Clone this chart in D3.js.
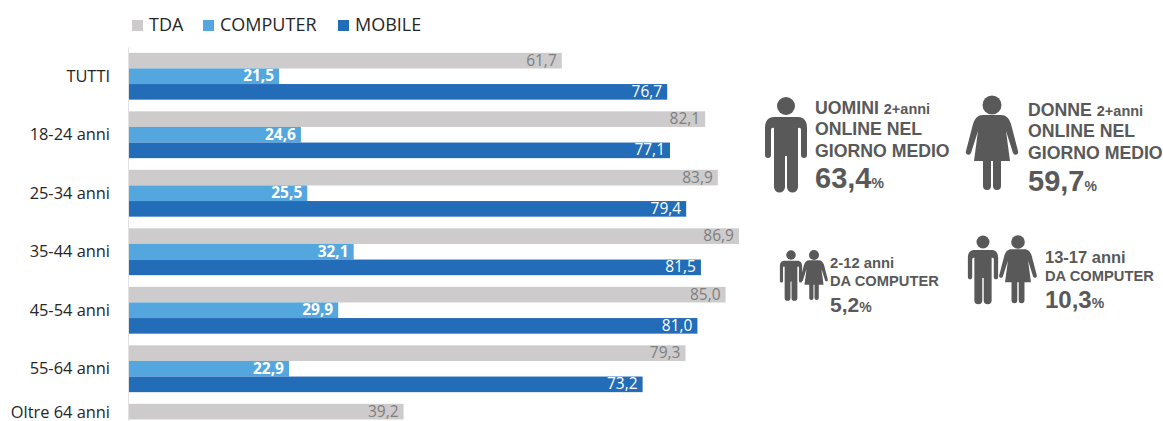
<!DOCTYPE html>
<html>
<head>
<meta charset="utf-8">
<script src="https://cdn.jsdelivr.net/npm/d3@7"></script>
<style>
  html, body { margin: 0; padding: 0; background: #fff; overflow: hidden; }
  svg { display: block; }
  .cat text, .legend text { font-family: "Open Sans", sans-serif; fill: #262626; }
  .info text { font-family: "Liberation Sans", Arial, sans-serif; font-weight: bold; fill: #595959; }
</style>
</head>
<body>
<div id="chart"></div>
<script>
var categories = ['TUTTI', '18-24 anni', '25-34 anni', '35-44 anni', '45-54 anni', '55-64 anni', 'Oltre 64 anni'];
var seriesNames = ['TDA', 'COMPUTER', 'MOBILE'];
var tda = [61.7, 82.1, 83.9, 86.9, 85.0, 79.3, 39.2];
var computer = [21.5, 24.6, 25.5, 32.1, 29.9, 22.9, null];
var mobile = [76.7, 77.1, 79.4, 81.5, 81.0, 73.2, null];

var colors = ['#cdcbcb', '#54a6de', '#236cb8'];
var labelColors = ['#7f7f7f', '#ffffff', '#ffffff'];

(function(d3) {
  'use strict';

  var width = 1163;
  var height = 421;

  var svg = d3.select('#chart')
    .append('svg')
    .attr('width', width)
    .attr('height', height);

  var fmt = function(v) { return v.toFixed(1).replace('.', ','); };

  // px per unit: 86,9 ends at 739
  var x = d3.scaleLinear().domain([0, 100]).range([128, 831]);

  var y = d3.scaleBand()
    .domain(categories)
    .range([47, 456.5])
    .paddingInner(0.2)
    .paddingOuter(0.1);

  var inner = d3.scaleBand()
    .domain(seriesNames)
    .range([0, y.bandwidth()]);

  var series = [tda, computer, mobile];

  series.forEach(function(values, s) {
    var name = seriesNames[s];
    var rows = categories.map(function(c, i) { return { cat: c, v: values[i] }; })
      .filter(function(d) { return d.v !== null; });

    svg.append('g').selectAll('rect')
      .data(rows)
      .enter()
      .append('rect')
      .attr('x', x(0))
      .attr('y', function(d) { return y(d.cat) + inner(name); })
      .attr('width', function(d) { return x(d.v) - x(0); })
      .attr('height', inner.bandwidth())
      .attr('fill', colors[s]);

    svg.append('g').selectAll('text')
      .data(rows)
      .enter()
      .append('text')
      .attr('x', function(d) { return x(d.v) - 5; })
      .attr('y', function(d) { return y(d.cat) + inner(name) + inner.bandwidth() / 2 + 5; })
      .attr('text-anchor', 'end')
      .attr('font-family', '"Open Sans", sans-serif')
      .attr('font-size', 15.5)
      .attr('font-weight', s === 1 ? 'bold' : 'normal')
      .attr('fill', labelColors[s])
      .text(function(d) { return fmt(d.v); });
  });

  var axis = svg.append('g')
    .attr('class', 'cat')
    .attr('transform', 'translate(' + x(0) + ',0)')
    .call(d3.axisLeft(y).tickSize(0).tickPadding(18));
  axis.select('.domain').attr('stroke', '#e2e2e2');
  axis.selectAll('text').attr('font-size', 16.4);

  // the last group runs off the picture, its label sits higher up
  axis.selectAll('.tick:last-of-type text').attr('dy', '0.32em').attr('transform', 'translate(0,-15)');

  // legend
  var legendX = [132, 203, 338];
  var legend = svg.append('g').attr('class', 'legend');
  seriesNames.forEach(function(name, i) {
    legend.append('rect')
      .attr('x', legendX[i])
      .attr('y', 20)
      .attr('width', 11)
      .attr('height', 11)
      .attr('fill', colors[i]);
    legend.append('text')
      .attr('x', legendX[i] + 17)
      .attr('y', 31)
      .attr('font-size', 18)
      .text(name);
  });

  // pictograms, local origin = centre of the head
  var manBody = 'M-12,11H12C18,11 21,15 21,22V49a3,3 0 0 1 -6,0V24q0,-3 -3,-2V81a5,5 0 0 1 -11,0V50h-2V81' +
    'a5,5 0 0 1 -11,0V22q-3,-1 -3,2V49a3,3 0 0 1 -6,0V22C-21,15 -18,11 -12,11Z';
  var womanBody = 'M-9,10H9C14,10 17,13 19,19L26,46a2.6,2.6 0 0 1 -5,2L14,26L18,56H9V81a4,4 0 0 1 -8,0V56H-1V81' +
    'a4,4 0 0 1 -8,0V56H-18L-14,26L-21,48a2.6,2.6 0 0 1 -5,-2L-19,19C-17,13 -14,10 -9,10Z';

  function figure(kind, cx, cy, scale) {
    var g = svg.append('g')
      .attr('transform', 'translate(' + cx + ',' + cy + ') scale(' + scale + ')')
      .attr('fill', '#595959');
    g.append('circle').attr('r', kind === 'man' ? 9 : 9.5);
    g.append('path').attr('d', kind === 'man' ? manBody : womanBody);
  }

  figure('man', 786, 106, 1);
  figure('woman', 992, 105, 1);
  figure('man', 791, 255, 0.53);
  figure('woman', 814, 255, 0.53);
  figure('man', 983, 242, 0.72);
  figure('woman', 1018, 242, 0.72);

  var info = svg.append('g').attr('class', 'info');

  function line(xPos, yPos, size, parts) {
    var t = info.append('text').attr('x', xPos).attr('y', yPos).attr('font-size', size);
    parts.forEach(function(p) {
      var sp = t.append('tspan').text(p[0]);
      if (p[1]) sp.attr('font-size', p[1]);
    });
  }

  line(815, 114, 17.7, [['UOMINI '], ['2+anni', 14.5]]);
  line(815, 135, 17.7, [['ONLINE NEL']]);
  line(815, 157, 17.7, [['GIORNO MEDIO']]);
  line(815, 188, 29, [['63,4'], ['%', 14]]);

  line(1028, 116, 17.7, [['DONNE '], ['2+anni', 14.5]]);
  line(1028, 137, 17.7, [['ONLINE NEL']]);
  line(1028, 159, 17.7, [['GIORNO MEDIO']]);
  line(1028, 191, 29, [['59,7'], ['%', 14]]);

  line(830, 268, 14.8, [['2-12 anni']]);
  line(830, 286, 14.7, [['DA COMPUTER']]);
  line(830, 312, 21, [['5,2'], ['%', 14]]);

  line(1045, 263, 16.5, [['13-17 anni']]);
  line(1045, 281, 14.7, [['DA COMPUTER']]);
  line(1045, 308, 24, [['10,3'], ['%', 14]]);

})(window.d3);
</script>
</body>
</html>
